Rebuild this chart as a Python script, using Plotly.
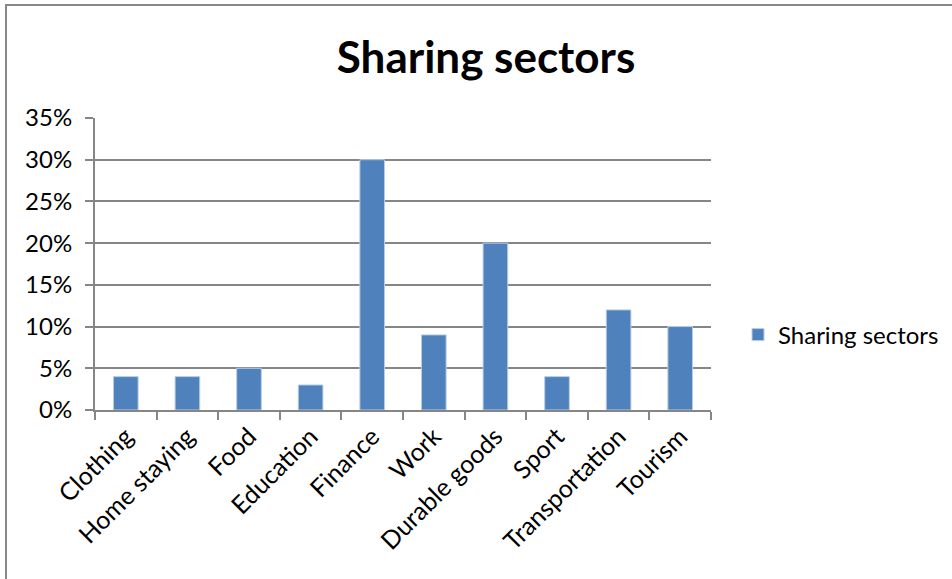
import plotly.graph_objects as go

categories = ["Clothing", "Home staying", "Food", "Education", "Finance",
              "Work", "Durable goods", "Sport", "Transportation", "Tourism"]
shares = [0.04, 0.04, 0.05, 0.03, 0.30, 0.09, 0.20, 0.04, 0.12, 0.10]
y_ticks = [0, 0.05, 0.10, 0.15, 0.20, 0.25, 0.30, 0.35]
y_tick_labels = ["0%", "5%", "10%", "15%", "20%", "25%", "30%", "35%"]

W, H = 952, 579
FONT = "Lato, Open Sans, sans-serif"
GRID = "#868686"
BAR = "#4F81BD"

fig = go.Figure()
fig.add_trace(go.Bar(
    x=categories, y=shares, name="Sharing sectors",
    marker=dict(color=BAR, line=dict(color="#B9CDE5", width=1)),
    width=0.4,
))

fig.update_layout(
    width=W, height=H,
    margin=dict(l=0, r=0, t=0, b=0, autoexpand=False),
    paper_bgcolor="white", plot_bgcolor="white",
    font=dict(family=FONT, size=24, color="#000000"),
    title=dict(text="<b>Sharing sectors</b>", x=486 / W, xanchor="center",
               xref="paper", yref="paper",
               y=1 - 58 / H, yanchor="middle",
               font=dict(family=FONT, size=44, color="#000000")),
    showlegend=True,
    legend=dict(x=738 / W, y=1 - 335 / H, xanchor="left", yanchor="middle",
                font=dict(family=FONT, size=24), bgcolor="rgba(0,0,0,0)",
                itemwidth=30),
    xaxis=dict(domain=[95 / W, 711 / W], type="category", automargin=False,
               showline=True, linecolor=GRID, linewidth=2,
               ticks="outside", tickson="boundaries", ticklen=8,
               tickcolor=GRID, tickwidth=2, tickangle=-45,
               tickfont=dict(family=FONT, size=25), showgrid=False),
    yaxis=dict(domain=[1 - 410 / H, 1 - 118 / H], range=[0, 0.35],
               automargin=False,
               tickvals=y_ticks, ticktext=y_tick_labels,
               showline=True, linecolor=GRID, linewidth=2,
               ticks="outside", ticklen=8, tickcolor=GRID, tickwidth=2,
               ticklabelstandoff=8,
               showgrid=True, gridcolor=GRID, gridwidth=2,
               tickfont=dict(family=FONT, size=24), zeroline=False),
    shapes=[dict(type="rect", xref="paper", yref="paper",
                 x0=6 / W, x1=1.05, y0=-0.05, y1=1 - 5 / H,
                 line=dict(color="#888888", width=2), layer="below")],
)

fig.write_html("out.html")
